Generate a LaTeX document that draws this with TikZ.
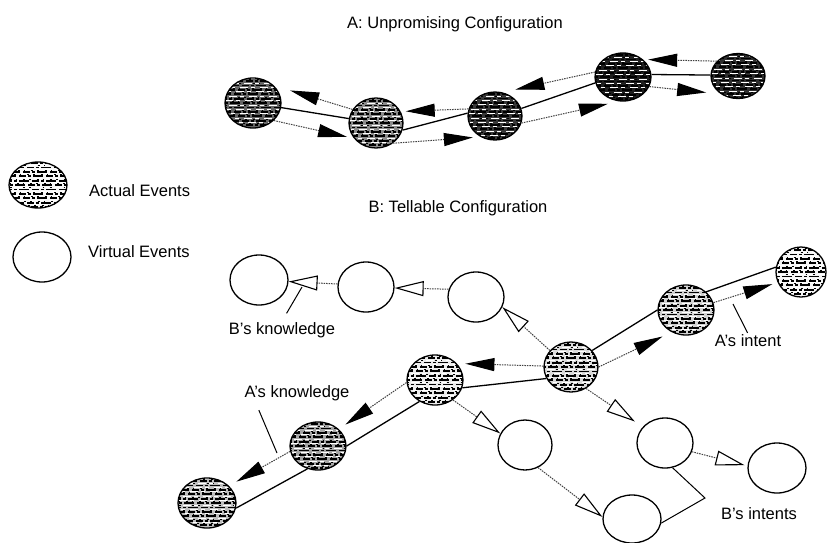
\documentclass[tikz,border=0pt]{standalone}
\usepackage{fontspec}
\setmainfont{Liberation Sans}
\usetikzlibrary{shapes.geometric, arrows.meta}

\newcommand\evtexture{%
  \foreach \k in {-5,...,5}{%
    \pgfmathsetmacro\ph{mod(abs(\k)*13+5,17)}%
    \pgfmathsetmacro\pp{mod(abs(\k)*7+3,11)}%
    \draw[black, line width=1.8pt, dash pattern=on 7pt off 2pt on 3pt off 2pt on 10pt off 3pt, dash phase=\ph pt]
      ([xshift=-32pt,yshift=\k*4.4pt]path picture bounding box.center) -- ++(64pt,0pt);
    \draw[black, line width=1pt, dash pattern=on 2pt off 4pt on 1.5pt off 6pt, dash phase=\pp pt]
      ([xshift=-32pt,yshift=\k*4.4pt+1.6pt]path picture bounding box.center) -- ++(64pt,0pt);
    \draw[white, line width=0.9pt, dash pattern=on 4pt off 5pt on 8pt off 3pt, dash phase=\ph pt]
      ([xshift=-32pt,yshift=\k*4.4pt+2.4pt]path picture bounding box.center) -- ++(64pt,0pt);
  }%
}

\tikzset{
  ev/.style={ellipse, draw, line width=1.3pt, minimum width=56pt, minimum height=50pt, inner sep=0pt},
  virt/.style={ev},
  act/.style={ev, fill=black!#1, path picture={\evtexture}},
  act/.default=30,
  conn/.style={line width=1.3pt},
  dotline/.style={draw=black!75, line width=1pt, dash pattern=on 1.5pt off 1pt},
  darr/.style={dotline, -{Triangle[length=29pt,width=13pt,color=black]}},
  oarr/.style={dotline, -{Triangle[open,length=29pt,width=15pt,color=black,line width=1.1pt]}},
  pointer/.style={line width=1pt},
  lbl/.style={inner sep=1pt, font=\fontsize{16.5}{19}\selectfont}
}

\begin{document}
\begin{tikzpicture}[x=1pt,y=-1pt]
\useasboundingbox (0,0) rectangle (827,542);

% titles
\node[lbl] (tA) at (455,24) {A: Unpromising Configuration};
\node[lbl] (tB) at (458,208) {B: Tellable Configuration};

% legend
\node[act=3, minimum width=58pt, minimum height=46pt] (legA) at (38,185) {};
\node[virt, minimum width=58pt, minimum height=50pt] (legV) at (42,257) {};
\node[lbl, anchor=west] (legAt) at (88,191) {Actual Events};
\node[lbl, anchor=west] (legVt) at (87,252) {Virtual Events};

% part A
\node[act=60, minimum width=56pt, minimum height=50pt] (A1) at (253,103) {};
\node[act=45, minimum width=54pt, minimum height=50pt] (A2) at (376,123) {};
\node[act=78, minimum width=54pt, minimum height=48pt] (A3) at (495,116) {};
\node[act=88, minimum width=56pt, minimum height=48pt] (A4) at (623,77) {};
\node[act=82, minimum width=54pt, minimum height=45pt] (A5) at (738,76) {};

\draw[conn] (A1) -- (A2);
\draw[conn] (A2.-15) -- (A3.174);
\draw[conn] (A3.16) -- (A4.-168);
\draw[conn] (A4.5) -- (A5.178);

\draw[darr, shorten >=17pt] (A2.150) -- (A1.40);
\draw[darr, shorten >=7pt] (A1.-40) -- (A2.215);
\draw[darr, shorten >=5pt] (A3.165) -- (A2.25);
\draw[darr, shorten >=7.5pt] (A2.-50) -- (A3.235);
\draw[darr, shorten >=13pt] (A4.170) -- (A3.72);
\draw[darr, shorten >=11pt] (A3.-15) -- (A4.-100);
\draw[darr, shorten >=5pt] (A5.145) -- (A4.41);
\draw[darr, shorten >=14.5pt] (A4.-20) -- (A5.226);

% part B nodes
\node[virt, minimum width=58pt] (V1) at (259,280) {};
\node[virt] (V2) at (366,287) {};
\node[virt] (V3) at (476,297) {};
\node[act=25, minimum width=58pt] (B1) at (207,503) {};
\node[act=35, minimum height=48pt] (B2) at (318,446) {};
\node[act=8] (B3) at (435,380) {};
\node[act=15, minimum width=54pt] (B4) at (571,367) {};
\node[act=18] (B5) at (686,310) {};
\node[act=4, minimum width=50pt] (B6) at (801,272) {};
\node[virt, minimum width=54pt] (V4) at (525,445) {};
\node[virt, minimum width=58pt, minimum height=48pt] (V5) at (632,519) {};
\node[virt] (V6) at (665,443) {};
\node[virt, minimum width=58pt] (V7) at (777,468) {};

% actual event chain
\draw[conn] (B1.-10) -- (B2.245);
\draw[conn] (B2.0) -- (B3.234);
\draw[conn] (B3.-16) -- (B4.205);
\draw[conn] (B4.38) -- (B5.180);
\draw[conn] (B5.42) -- (B6.169);

% filled arrows
\draw[darr, shorten >=8.5pt] (B4.178) -- (B3.37);
\draw[darr, shorten >=8pt] (B3.185) -- (B2.39);
\draw[darr, shorten >=8.5pt] (B2.191) -- (B1.38);
\draw[darr, shorten >=10pt] (B4.0) -- (B5.237);
\draw[darr, shorten >=5.5pt] (B5.15) -- (B6.204);

% open arrows
\draw[oarr] (V2.174) -- (V1.-3);
\draw[oarr] (V3.164) -- (V2.-2);
\draw[oarr] (B4.142) -- (V3.-21);
\draw[oarr] (B3.-48) -- (V4.155);
\draw[oarr, shorten >=9.5pt] (B4.-55) -- (V6.144);
\draw[oarr, shorten >=3pt] (V6.-18) -- (V7.176);
\draw[oarr] (V4.-60) -- (V5.176);

% labels and pointers
\node[lbl] (bk) at (282,330) {B’s knowledge};
\node[lbl] (ak) at (297,393) {A’s knowledge};
\node[lbl] (ai) at (748,341) {A’s intent};
\node[lbl] (bi) at (759,514) {B’s intents};

\coordinate (bkp) at (302,287);
\coordinate (akp) at (277,453);
\coordinate (aip) at (733,304);
\coordinate (bint) at (705,498);

\draw[pointer, shorten <=9pt] (bk.north) -- (bkp);
\draw[pointer, shorten <=9pt] ([xshift=12pt]ak.south west) -- (akp);
\draw[pointer, shorten <=1pt] (ai.north) -- (aip);
\draw[pointer] (V6.-73) -- (bint) -- (V5.-8);
\end{tikzpicture}
\end{document}
